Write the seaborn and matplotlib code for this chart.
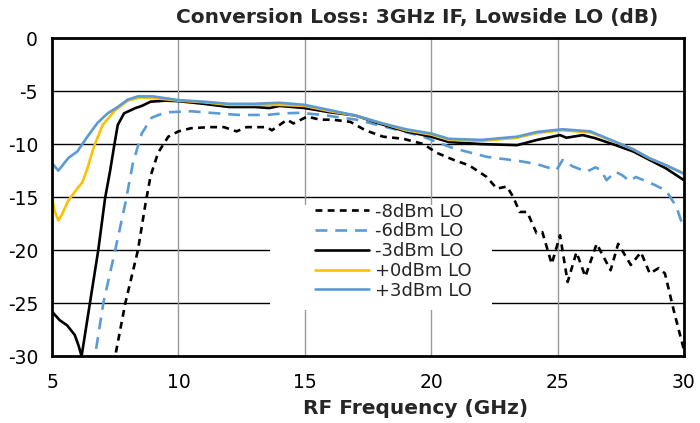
import matplotlib
matplotlib.use("Agg")
import matplotlib.pyplot as plt
from matplotlib.patches import Rectangle
import seaborn as sns

# RF frequency (GHz) / conversion loss (dB)
freq_m8 = [7.2, 7.5, 7.9, 8.4, 8.7, 8.9, 9.2, 9.6, 10.0, 10.5, 11.25, 11.8, 12.3, 12.7,
           13.5, 13.7, 14.3, 14.55, 15.1, 15.6, 16.1, 16.8, 17.4, 18.1, 18.9, 19.7,
           20.2, 20.9, 21.5, 22.2, 22.6, 23.0, 23.25, 23.5, 23.8, 24.17, 24.4, 24.77,
           25.1, 25.4, 25.75, 26.1, 26.55, 27.1, 27.4, 27.9, 28.3, 28.65, 29.0, 29.25,
           29.6, 30.0]
loss_m8 = [-33.0, -30.0, -25.0, -20.0, -15.6, -13.0, -10.8, -9.3, -8.8, -8.5, -8.4, -8.4,
           -8.8, -8.4, -8.4, -8.7, -7.7, -8.05, -7.4, -7.7, -7.7, -7.9, -8.7, -9.3, -9.5,
           -10.0, -10.8, -11.5, -12.0, -13.1, -14.2, -14.0, -15.0, -16.4, -16.4, -18.4,
           -18.3, -21.3, -18.6, -23.0, -20.2, -22.5, -19.4, -21.9, -19.4, -21.4, -20.2,
           -22.2, -21.7, -22.2, -25.7, -29.4]

freq_m6 = [6.5, 6.7, 7.03, 7.5, 7.9, 8.2, 8.55, 8.95, 9.5, 10.5, 11.0, 12.4, 13.5, 14.15,
           14.8, 15.7, 17.05, 18.4, 19.7, 20.2, 20.9, 22.2, 23.5, 24.2, 24.6, 24.96,
           25.2, 25.6, 26.15, 26.5, 26.7, 26.94, 27.3, 27.6, 27.85, 28.1, 28.4, 28.8,
           29.3, 29.7, 30.0]
loss_m6 = [-33.0, -30.0, -25.0, -20.0, -15.6, -11.8, -9.0, -7.5, -7.0, -6.9, -7.0, -7.25,
           -7.25, -7.1, -7.05, -7.25, -7.7, -8.5, -9.3, -9.8, -10.4, -11.2, -11.6, -11.9,
           -12.2, -12.45, -11.5, -12.1, -12.6, -12.2, -12.4, -13.4, -12.6, -13.0, -13.5,
           -13.1, -13.4, -13.8, -14.4, -15.9, -18.0]

freq_m3 = [5.0, 5.3, 5.6, 5.9, 6.05, 6.17, 6.5, 6.83, 7.1, 7.3, 7.45, 7.6, 7.85, 8.3, 8.55,
           8.9, 9.5, 10.0, 11.0, 12.0, 13.0, 13.6, 14.0, 15.0, 16.0, 17.0, 18.0, 19.0,
           20.0, 20.7, 22.0, 23.4, 24.2, 24.8, 25.1, 25.35, 26.0, 26.5, 27.3, 28.0, 28.65,
           29.3, 30.0]
loss_m3 = [-25.8, -26.6, -27.1, -28.0, -29.0, -30.0, -25.0, -20.0, -15.1, -12.5, -10.3,
           -8.2, -7.1, -6.6, -6.4, -6.0, -5.9, -5.95, -6.2, -6.5, -6.5, -6.6, -6.4, -6.6,
           -7.0, -7.3, -8.1, -8.8, -9.3, -9.8, -10.0, -10.1, -9.6, -9.3, -9.15, -9.4,
           -9.15, -9.45, -10.1, -10.7, -11.5, -12.3, -13.4]

freq_p0 = [5.0, 5.1, 5.25, 5.4, 5.65, 6.0, 6.2, 6.4, 6.65, 7.0, 7.5, 8.0, 8.5, 9.0, 10.0,
           11.0, 12.0, 13.0, 14.0, 15.0, 16.0, 17.0, 18.0, 19.0, 20.0, 20.7, 22.0, 23.4,
           24.2, 25.2, 26.3, 27.3, 28.0, 28.65, 29.3, 30.0]
loss_p0 = [-15.0, -16.3, -17.2, -16.6, -15.3, -14.2, -13.6, -12.3, -10.3, -8.2, -6.8, -5.9,
           -5.6, -5.65, -5.9, -6.05, -6.3, -6.3, -6.3, -6.4, -6.9, -7.3, -8.0, -8.7, -9.1,
           -9.6, -9.7, -9.4, -8.95, -8.7, -8.9, -9.8, -10.5, -11.35, -12.0, -12.75]

freq_p3 = [5.0, 5.25, 5.65, 6.0, 6.4, 6.8, 7.2, 7.6, 8.0, 8.4, 9.0, 10.0, 11.0, 12.0, 13.0,
           14.0, 15.0, 16.0, 17.0, 18.0, 19.0, 20.0, 20.7, 22.0, 23.4, 24.2, 25.2, 26.3,
           27.3, 28.0, 28.65, 29.3, 30.0]
loss_p3 = [-11.8, -12.5, -11.3, -10.7, -9.3, -8.0, -7.1, -6.5, -5.8, -5.5, -5.5, -5.85,
           -6.0, -6.2, -6.2, -6.1, -6.3, -6.8, -7.3, -8.0, -8.6, -9.0, -9.5, -9.6, -9.3,
           -8.85, -8.6, -8.8, -9.8, -10.5, -11.35, -12.0, -12.8]

series = [
    ("-8dBm LO", freq_m8, loss_m8, "black", (0, (2.6, 2.0))),
    ("-6dBm LO", freq_m6, loss_m6, "#5B9BD5", (0, (4.5, 3.0))),
    ("-3dBm LO", freq_m3, loss_m3, "black", "-"),
    ("+0dBm LO", freq_p0, loss_p0, "#FFC000", "-"),
    ("+3dBm LO", freq_p3, loss_p3, "#5B9BD5", "-"),
]

sns.set_theme(style="white")
plt.rcParams['font.family'] = ['DejaVu Sans']
plt.rcParams['axes.unicode_minus'] = False

fig, ax = plt.subplots(figsize=(7, 4.23), dpi=100)
fig.subplots_adjust(left=0.0743, right=0.977, top=0.910, bottom=0.158)

for label, f, l, c, ls in series:
    sns.lineplot(x=f, y=l, ax=ax, color=c, linestyle=ls, linewidth=1.9,
                 label=label, zorder=3)

ax.set_xlim(5, 30)
ax.set_ylim(-30, 0)
ax.set_xticks([5, 10, 15, 20, 25, 30])
ax.set_yticks([0, -5, -10, -15, -20, -25, -30])

# grid: black horizontal, gray vertical
for yv in [-5, -10, -15, -20, -25]:
    ax.axhline(yv, color="black", lw=1.0, zorder=1)
for xv in [10, 15, 20, 25]:
    ax.axvline(xv, color="#999999", lw=1.0, zorder=1)

for sp in ax.spines.values():
    sp.set_color("black")
    sp.set_linewidth(2.0)
    sp.set_zorder(4)

ax.tick_params(axis="both", length=0, labelsize=13.5, colors="black")
ax.tick_params(axis="y", pad=10)
ax.tick_params(axis="x", pad=12)

ax.set_xlabel("RF Frequency (GHz)", fontsize=14.5, fontweight="bold")
ax.xaxis.label.set_va("center")
ax.xaxis.set_label_coords(0.576, -0.163)
ax.set_ylabel("")

# white legend background
ax.add_patch(Rectangle((0.345, 0.145), 0.351, 0.33, transform=ax.transAxes,
                       facecolor="white", edgecolor="none", zorder=2))
handles, labels = ax.get_legend_handles_labels()
ax.legend(handles, labels, loc="center", bbox_to_anchor=(0.54, 0.33), frameon=False,
          fontsize=13, handlelength=3.0, labelspacing=0.1, handletextpad=0.3)

fig.text(0.596, 0.958, "Conversion Loss: 3GHz IF, Lowside LO (dB)", ha="center",
         va="center", fontsize=14.5, fontweight="bold")

fig.savefig("out.png", dpi=100)
